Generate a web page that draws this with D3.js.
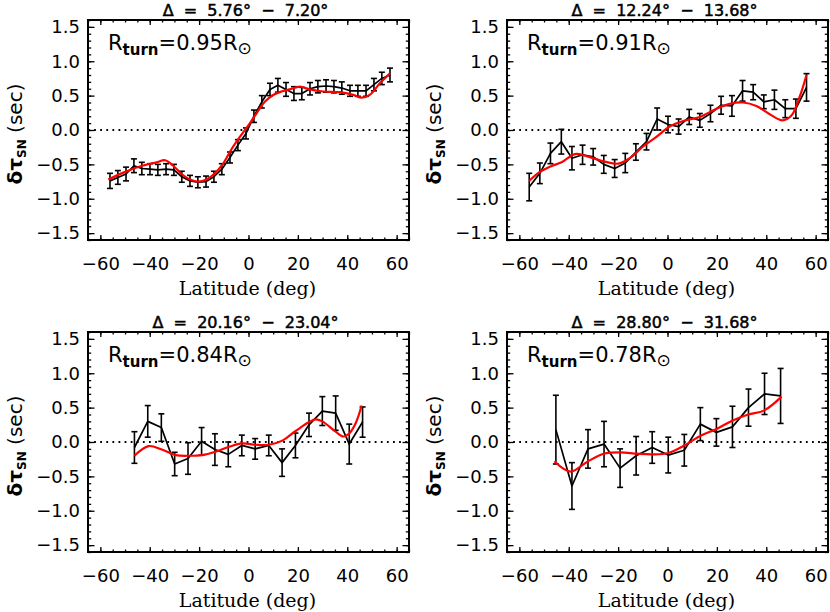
<!DOCTYPE html>
<html><head><meta charset="utf-8">
<script src="https://cdn.jsdelivr.net/npm/d3@7"></script>
<style>body{margin:0;background:#fff} svg{display:block}</style>
</head><body><svg id="c" width="830" height="612"></svg>
<script>
// ---- tick labels ----
const xTicks = [-60, -40, -20, 0, 20, 40, 60];
const yTicks = [-1.5, -1.0, -0.5, 0.0, 0.5, 1.0, 1.5];

// ---- panel titles and annotations ----
const titles = ["Δ  =  5.76°  −  7.20°", "Δ  =  12.24°  −  13.68°", "Δ  =  20.16°  −  23.04°", "Δ  =  28.80°  −  31.68°"];
const rturns = ["0.95", "0.91", "0.84", "0.78"];

// ---- panel 1 ----
const lat1 = [-56.1,-52.9,-49.6,-46.4,-43.2,-39.9,-36.7,-33.4,-30.2,-27.0,-23.7,-20.5,-17.2,-14.0,-10.8,-7.5,-4.3,-1.0,2.2,5.4,8.7,11.9,15.2,18.4,21.6,24.9,28.1,31.4,34.6,37.8,41.1,44.3,47.6,50.8,54.0,57.3];
const tau1 = [-0.74,-0.69,-0.64,-0.52,-0.56,-0.57,-0.58,-0.57,-0.58,-0.68,-0.74,-0.76,-0.75,-0.68,-0.57,-0.40,-0.22,-0.05,0.20,0.41,0.59,0.65,0.59,0.53,0.53,0.60,0.63,0.64,0.63,0.61,0.57,0.57,0.57,0.66,0.75,0.80];
const err1 = [0.11,0.10,0.10,0.10,0.09,0.08,0.08,0.08,0.08,0.08,0.08,0.08,0.08,0.08,0.08,0.08,0.08,0.08,0.09,0.09,0.09,0.10,0.10,0.10,0.09,0.09,0.09,0.09,0.09,0.09,0.08,0.08,0.08,0.09,0.09,0.10];
const fitLat1 = [-56.8,-50.7,-44.0,-37.2,-33.8,-30.5,-27.1,-23.7,-20.4,-17.0,-13.6,-10.3,-6.9,-3.5,-0.2,3.2,6.6,10.0,13.4,16.7,20.8,24.8,30.2,37.0,42.4,45.8,49.1,53.2,57.2];
const fit1 = [-0.72,-0.62,-0.53,-0.47,-0.44,-0.52,-0.64,-0.72,-0.75,-0.72,-0.63,-0.49,-0.28,-0.10,0.06,0.24,0.41,0.51,0.56,0.59,0.63,0.59,0.56,0.55,0.51,0.47,0.51,0.68,0.82];

// ---- panel 2 ----
const lat2 = [-56.0,-51.7,-47.4,-43.0,-38.7,-34.4,-30.1,-25.8,-21.4,-17.1,-12.8,-8.5,-4.2,0.2,4.5,8.8,13.1,17.4,21.7,26.1,30.4,34.7,39.0,43.3,47.7,52.0,56.3];
const tau2 = [-0.83,-0.63,-0.34,-0.17,-0.41,-0.36,-0.39,-0.50,-0.56,-0.48,-0.32,-0.17,0.16,0.08,0.05,0.19,0.14,0.24,0.36,0.35,0.57,0.55,0.41,0.44,0.31,0.31,0.62];
const err2 = [0.20,0.15,0.15,0.18,0.17,0.14,0.12,0.13,0.13,0.14,0.12,0.12,0.16,0.12,0.11,0.11,0.10,0.12,0.13,0.15,0.15,0.11,0.10,0.14,0.13,0.14,0.20];
const fitLat2 = [-56.0,-51.7,-47.4,-42.9,-37.5,-32.8,-27.4,-20.0,-15.3,-9.9,-4.5,0.9,6.3,13.1,19.8,25.2,30.6,36.0,41.4,46.5,50.2,53.5,56.3];
const fit2 = [-0.74,-0.61,-0.53,-0.47,-0.35,-0.38,-0.44,-0.49,-0.41,-0.24,-0.10,0.05,0.13,0.19,0.31,0.38,0.40,0.35,0.23,0.14,0.21,0.48,0.80];

// ---- panel 3 ----
const lat3 = [-46.2,-40.8,-35.3,-29.9,-24.5,-19.0,-13.6,-8.2,-2.7,2.7,8.2,13.6,19.0,24.5,29.9,35.3,40.8,46.2];
const tau3 = [-0.08,0.30,0.21,-0.32,-0.24,0.01,-0.11,-0.18,-0.05,-0.10,-0.05,-0.30,-0.05,0.25,0.45,0.42,-0.03,0.29];
const err3 = [0.23,0.23,0.20,0.17,0.23,0.20,0.23,0.18,0.15,0.15,0.15,0.20,0.18,0.17,0.21,0.25,0.29,0.22];
const fitLat3 = [-46.2,-40.5,-35.1,-29.5,-24.1,-18.7,-13.3,-7.9,-2.5,2.9,8.3,13.7,19.1,24.5,27.2,29.9,35.3,38.4,40.7,43.5,45.8];
const fit3 = [-0.20,-0.06,-0.11,-0.19,-0.20,-0.19,-0.14,-0.07,-0.02,-0.04,-0.04,0.02,0.16,0.29,0.33,0.30,0.15,0.08,0.12,0.28,0.53];

// ---- panel 4 ----
const lat4 = [-45.2,-38.7,-32.2,-25.7,-19.2,-12.7,-6.2,0.3,6.8,13.3,19.8,26.3,32.8,39.3,45.8];
const tau4 = [0.18,-0.64,-0.10,-0.03,-0.38,-0.20,-0.08,-0.19,-0.12,0.26,0.14,0.22,0.50,0.70,0.67];
const err4 = [0.50,0.34,0.28,0.33,0.28,0.28,0.23,0.26,0.23,0.24,0.20,0.30,0.27,0.30,0.40];
const fitLat4 = [-45.8,-39.3,-32.6,-25.8,-19.0,-12.3,-6.0,0.3,6.8,13.4,19.9,26.2,32.7,39.2,46.2];
const fit4 = [-0.28,-0.43,-0.29,-0.17,-0.15,-0.17,-0.18,-0.16,-0.05,0.09,0.19,0.31,0.40,0.46,0.66];

const panels = [
  {lat: lat1, tau: tau1, err: err1, fitLat: fitLat1, fit: fit1},
  {lat: lat2, tau: tau2, err: err2, fitLat: fitLat2, fit: fit2},
  {lat: lat3, tau: tau3, err: err3, fitLat: fitLat3, fit: fit3},
  {lat: lat4, tau: tau4, err: err4, fitLat: fitLat4, fit: fit4}
];

const svg = d3.select("#c");
const W = 321, H = 220;
const origins = [[88, 20], [507, 20], [88, 332], [507, 332]];
const x = d3.scaleLinear().domain([-65, 65]).range([0, W]);
const y = d3.scaleLinear().domain([-1.6, 1.6]).range([H, 0]);
const sans = "DejaVu Sans, sans-serif";
const serif = "DejaVu Serif, serif";
const xMinor = d3.range(-65, 65.01, 5);
const yMinor = d3.range(-16, 16.01, 1).map(v => v / 10);

panels.forEach((p, i) => {
  const [ox, oy] = origins[i];
  const g = svg.append("g").attr("transform", `translate(${ox},${oy})`);

  // zero dotted line
  g.append("line").attr("x1", 0).attr("x2", W).attr("y1", y(0)).attr("y2", y(0))
    .attr("stroke", "#000").attr("stroke-width", 1.8).attr("stroke-dasharray", "1.8,4.3");

  // axes
  const styleAxis = sel => { sel.select(".domain").remove(); sel.selectAll("line").attr("stroke", "#000").attr("stroke-width", 1.3); };
  g.append("g").attr("transform", `translate(0,${H})`)
    .call(d3.axisBottom(x).tickValues(xTicks).tickSize(-5).tickPadding(17).tickFormat(d3.format("d")))
    .call(styleAxis)
    .call(s => s.selectAll("text").attr("font-family", sans).attr("font-size", 18).attr("fill", "#000"));
  g.append("g").attr("transform", `translate(0,${H})`)
    .call(d3.axisBottom(x).tickValues(xMinor).tickSize(-2.5).tickFormat("")).call(styleAxis);
  g.append("g").call(d3.axisTop(x).tickValues(xTicks).tickSize(-5).tickFormat("")).call(styleAxis);
  g.append("g").call(d3.axisTop(x).tickValues(xMinor).tickSize(-2.5).tickFormat("")).call(styleAxis);

  g.append("g")
    .call(d3.axisLeft(y).tickValues(yTicks).tickSize(-6.5).tickPadding(8).tickFormat(d3.format(".1f")))
    .call(styleAxis)
    .call(s => s.selectAll("text").attr("font-family", sans).attr("font-size", 18).attr("fill", "#000"));
  g.append("g").call(d3.axisLeft(y).tickValues(yMinor).tickSize(-3.2).tickFormat("")).call(styleAxis);
  g.append("g").attr("transform", `translate(${W},0)`)
    .call(d3.axisRight(y).tickValues(yTicks).tickSize(-6.5).tickFormat("")).call(styleAxis);
  g.append("g").attr("transform", `translate(${W},0)`)
    .call(d3.axisRight(y).tickValues(yMinor).tickSize(-3.2).tickFormat("")).call(styleAxis);

  // frame
  g.append("rect").attr("width", W).attr("height", H).attr("fill", "none")
    .attr("stroke", "#000").attr("stroke-width", 2);

  // data
  const pts = p.lat.map((l, k) => ({lat: l, v: p.tau[k], e: p.err[k]}));
  const eb = g.append("g").attr("stroke", "#000").attr("stroke-width", 1.6);
  pts.forEach(d => {
    eb.append("line").attr("x1", x(d.lat)).attr("x2", x(d.lat)).attr("y1", y(d.v - d.e)).attr("y2", y(d.v + d.e));
    eb.append("line").attr("x1", x(d.lat) - 3).attr("x2", x(d.lat) + 3).attr("y1", y(d.v - d.e)).attr("y2", y(d.v - d.e));
    eb.append("line").attr("x1", x(d.lat) - 3).attr("x2", x(d.lat) + 3).attr("y1", y(d.v + d.e)).attr("y2", y(d.v + d.e));
  });
  g.append("path").datum(pts)
    .attr("d", d3.line().x(d => x(d.lat)).y(d => y(d.v)))
    .attr("fill", "none").attr("stroke", "#000").attr("stroke-width", 1.7).attr("stroke-linejoin", "round");

  const fpts = p.fitLat.map((l, k) => ({lat: l, v: p.fit[k]}));
  g.append("path").datum(fpts)
    .attr("d", d3.line().curve(d3.curveCatmullRom.alpha(0.5)).x(d => x(d.lat)).y(d => y(d.v)))
    .attr("fill", "none").attr("stroke", "#ff0000").attr("stroke-width", 2.2);

  // title
  g.append("text").attr("x", W / 2 - 3).attr("y", -4.5).attr("text-anchor", "middle")
    .attr("font-family", sans).attr("font-size", 16)
    .attr("stroke", "#000").attr("stroke-width", 0.5)
    .style("white-space", "pre").text(titles[i]);

  // R_turn annotation
  const t = g.append("text").attr("x", 20).attr("y", 30)
    .attr("font-family", sans).attr("font-size", 21).style("white-space", "pre");
  t.append("tspan").text("R");
  t.append("tspan").attr("dy", 5).attr("font-size", 15).attr("font-weight", "bold").text("turn");
  t.append("tspan").attr("dy", -5).text("=" + rturns[i] + "R");
  t.append("tspan").attr("dy", 4).attr("font-size", 17).text("⊙");

  // axis labels
  g.append("text").attr("x", W / 2 - 1).attr("y", H + 55).attr("text-anchor", "middle")
    .attr("font-family", serif).attr("font-size", 19).text("Latitude (deg)");
  const yl = g.append("text").attr("transform", `translate(${-66},${H / 2 + 4}) rotate(-90)`)
    .attr("text-anchor", "middle").attr("font-family", sans).attr("font-size", 20).style("white-space", "pre");
  yl.append("tspan").attr("font-weight", "bold").text("δτ");
  yl.append("tspan").attr("dy", 4).attr("font-size", 12).attr("font-weight", "bold").text("SN");
  yl.append("tspan").attr("dy", -4).text(" (sec)");
});
</script>
</body></html>
